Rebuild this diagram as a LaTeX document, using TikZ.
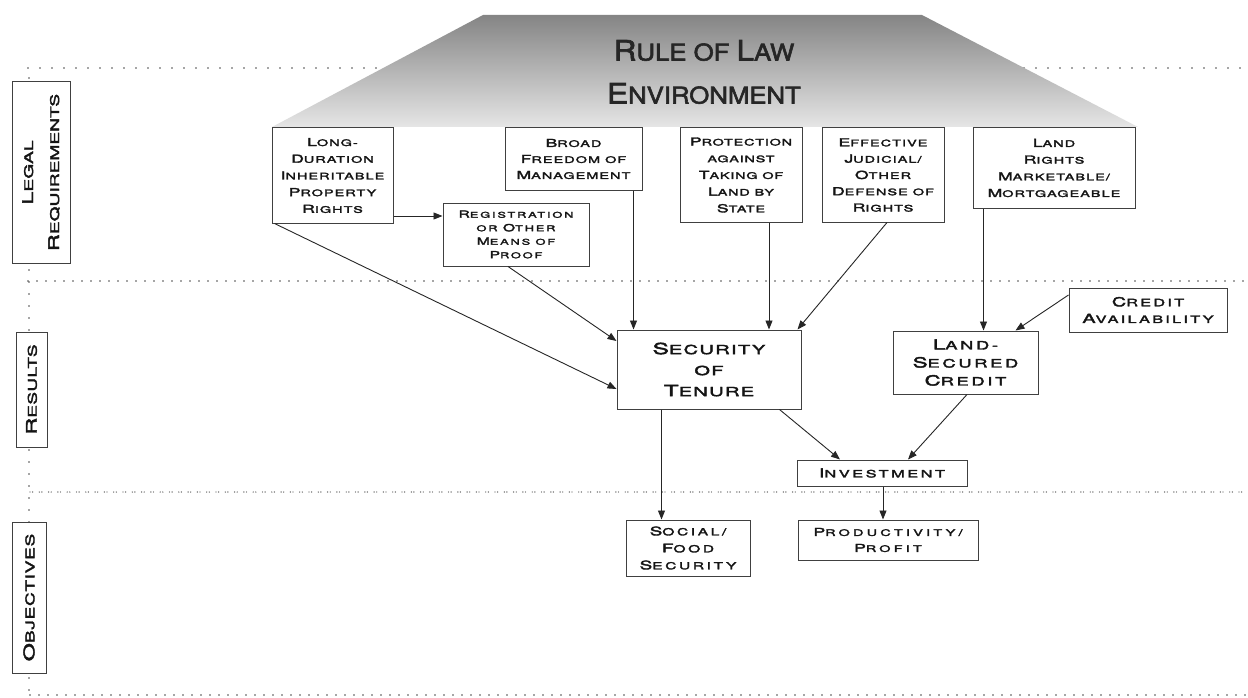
\documentclass[tikz,border=0pt]{standalone}
\usepackage{fontspec}
\usepackage{graphicx}
\newfontfamily\bank[FakeStretch=1.6,FakeBold=3]{TeX Gyre Heros}
\newfontfamily\banktitle[FakeStretch=1.12,FakeBold=2.5]{TeX Gyre Heros}
\newcommand\C[1]{\scalebox{1.22}{#1}}
\usetikzlibrary{arrows.meta}
\begin{document}
\begin{tikzpicture}[x=1pt,y=-1pt,
  box/.style={draw=black!75, line width=1pt, fill=white, inner sep=0pt, align=center, text=black!92},
  bx/.style 2 args={box, minimum width=#1, minimum height=#2},
  T/.style n args={3}{font=\bank\addfontfeature{LetterSpace=#3}\fontsize{#1}{#2}\selectfont},
  arr/.style={-{Triangle[length=9pt,width=7pt]}, line width=0.9pt, black!85},
  dots/.style={line width=1.8pt, line cap=round, dash pattern=on 0pt off 12pt, black!70},
  dotsB/.style={line width=1.6pt, line cap=round, dash pattern=on 0pt off 9pt, black!70},
  dotsC/.style={line width=1.4pt, line cap=round, dash pattern=on 0pt off 2.6pt on 0pt off 6.7pt, black!65}
]
\useasboundingbox (0,0) rectangle (1248,698);
\fill[white] (0,0) rectangle (1248,698);

% section separators
\draw[dots]  (28,68) -- (1248,68);
\draw[dotsB] (28,281) -- (1248,281);
\draw[dotsC] (30,492) -- (1248,492);
\draw[dotsB] (30,695) -- (1248,695);
\draw[dots]  (29,78) -- (29,698);

% banner
\shade[top color=black!48, bottom color=black!10]
  (483,15) -- (922,15) -- (1138,127) -- (272,127) -- cycle;
\node[font=\banktitle\fontsize{23}{43}\selectfont, align=center, text=black!85]
  (rol) at (704,72) {\C{R}ULE OF \C{L}AW\\\C{E}NVIRONMENT};

% section labels
\node[bx={181}{58}, rotate=90, T={12}{26}{0}] (legal) at (41,172.5) {\C{L}EGAL\\\C{R}EQUIREMENTS};
\node[bx={115}{31}, rotate=90, T={12}{26}{2}] (results) at (31.5,389.5) {\C{R}ESULTS};
\node[bx={151}{34}, rotate=90, T={12}{26}{5}] (objectives) at (29,597.5) {\C{O}BJECTIVES};

% legal requirements
\node[bx={121}{95}, T={9}{16.7}{12}] (ld) at (332.5,175.5) {\C{L}ONG-\\\C{D}URATION\\\C{I}NHERITABLE\\\C{P}ROPERTY\\\C{R}IGHTS};
\node[bx={137}{62}, T={9}{16}{12}] (bf) at (573.5,159) {\C{B}ROAD\\\C{F}REEDOM OF\\\C{M}ANAGEMENT};
\node[bx={146}{63}, T={8}{13.5}{23}] (reg) at (516,234.5) {\C{R}EGISTRATION\\OR \C{O}THER\\\C{M}EANS OF\\\C{P}ROOF};
\node[bx={122}{94}, T={9}{16.7}{9}] (prot) at (741,175) {\C{P}ROTECTION\\AGAINST\\\C{T}AKING OF\\\C{L}AND BY\\\C{S}TATE};
\node[bx={122}{94}, T={9}{16.3}{12}] (eff) at (883,175) {\C{E}FFECTIVE\\\C{J}UDICIAL/\\\C{O}THER\\\C{D}EFENSE OF\\\C{R}IGHTS};
\node[bx={162}{80}, T={9}{16.7}{12}] (land) at (1054,168) {\C{L}AND\\\C{R}IGHTS\\\C{M}ARKETABLE/\\\C{M}ORTGAGEABLE};

% results
\node[bx={158}{44}, T={10.2}{16.7}{22}] (credit) at (1148,310) {\C{C}REDIT\\\C{A}VAILABILITY};
\node[bx={184}{79}, T={12.5}{21}{11}] (sec) at (709,369.5) {\C{S}ECURITY\\OF\\\C{T}ENURE};
\node[bx={145}{63}, T={11.4}{18}{24}] (lsc) at (965.5,362.5) {\C{L}AND-\\\C{S}ECURED\\\C{C}REDIT};
\node[bx={170}{26}, T={10.2}{14}{25}] (inv) at (882,473) {\C{I}NVESTMENT};

% objectives
\node[bx={124}{56}, T={9.7}{17}{27}] (soc) at (688,548) {\C{S}OCIAL/\\\C{F}OOD\\\C{S}ECURITY};
\node[bx={180}{40}, T={9}{16}{36}] (prod) at (888,540) {\C{P}RODUCTIVITY/\\\C{P}ROFIT};

% connectors
\draw[arr] ([yshift=-40.5pt]ld.east) coordinate (p1) -- (p1 -| reg.west);
\draw[arr] ([xshift=3pt]ld.south west) -- ([yshift=-19.5pt]sec.west);
\draw[arr] ([xshift=-8pt]reg.south) -- ([yshift=28.5pt]sec.west);
\draw[arr] ([xshift=-9pt]bf.south east) coordinate (p2) -- (p2 |- sec.north);
\draw[arr] ([xshift=28pt]prot.south) coordinate (p3) -- (p3 |- sec.north);
\draw[arr] ([xshift=4pt]eff.south) -- ([xshift=-4pt]sec.north east);
\draw[arr] ([xshift=11pt]land.south west) coordinate (p4) -- (p4 |- lsc.north);
\draw[arr] ([yshift=15pt]credit.west) -- ([xshift=-23pt]lsc.north east);
\draw[arr] ([xshift=45pt]sec.south west) coordinate (p5) -- (p5 |- soc.north);
\draw[arr] ([xshift=-22pt]sec.south east) -- ([xshift=-42pt]inv.north);
\draw[arr] ([xshift=1.5pt]lsc.south) -- ([xshift=26pt]inv.north);
\draw[arr] ([xshift=1pt]inv.south) coordinate (p6) -- (p6 |- prod.north);
\end{tikzpicture}
\end{document}
